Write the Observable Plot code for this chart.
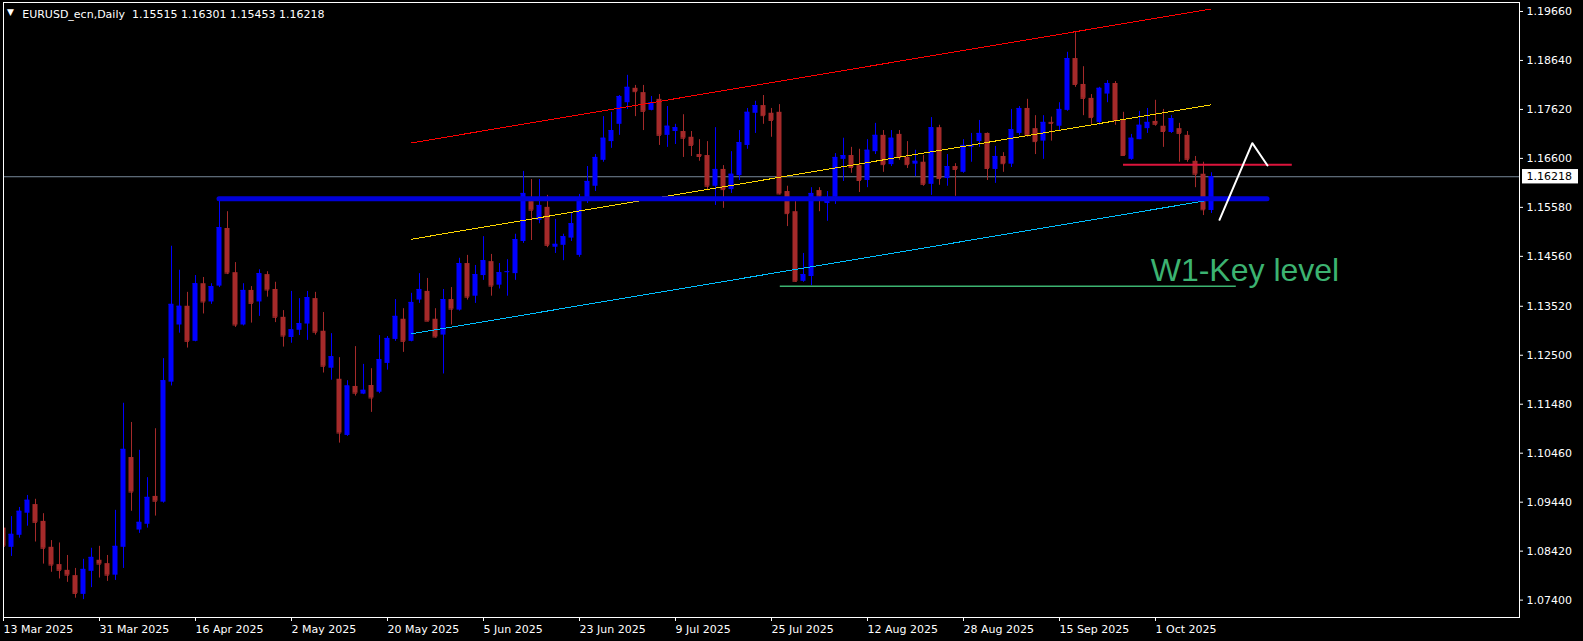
<!DOCTYPE html>
<html>
<head>
<meta charset="utf-8">
<script src="https://cdn.jsdelivr.net/npm/d3@7"></script>
<script src="https://cdn.jsdelivr.net/npm/@observablehq/plot@0.6"></script>
<style>
  html, body { margin: 0; padding: 0; background: #000; }
  #chart svg { display: block; }
</style>
</head>
<body>
<div id="chart"></div>
<script>
// ---- Data (EURUSD_ecn, Daily) : bar index 0 = 13 Mar 2025 ----
const opens = [1.0890,1.0850,1.0875,1.0921,1.0939,1.0904,1.0850,1.0814,1.0802,1.0791,
1.0752,1.0800,1.0823,1.0816,1.0792,1.0850,1.1037,1.0886,1.0898,1.0956,
1.0944,1.1194,1.1313,1.1352,1.1279,1.1399,1.1361,1.1394,1.1514,1.1422,
1.1313,1.1385,1.1361,1.1418,1.1387,1.1329,1.1287,1.1302,1.1315,1.1368,
1.1300,1.1223,1.1200,1.1083,1.1185,1.1169,1.1187,1.1173,1.1233,1.1283,
1.1325,1.1279,1.1365,1.1383,1.1325,1.1292,1.1366,1.1344,1.1441,1.1373,
1.1416,1.1445,1.1396,1.1423,1.1420,1.1487,1.1570,1.1531,1.1558,1.1475,
1.1479,1.1494,1.1458,1.1572,1.1602,1.1656,1.1695,1.1731,1.1776,1.1806,
1.1797,1.1760,1.1783,1.1708,1.1716,1.1716,1.1704,1.1668,1.1666,1.1602,
1.1637,1.1595,1.1624,1.1687,1.1754,1.1770,1.1754,1.1756,1.1591,1.1549,
1.1404,1.1414,1.1593,1.1566,1.1579,1.1658,1.1666,1.1645,1.1614,1.1674,
1.1708,1.1647,1.1710,1.1662,1.1648,1.1652,1.1606,1.1724,1.1618,1.1643,
1.1631,1.1683,1.1695,1.1712,1.1637,1.1664,1.1648,1.1712,1.1764,1.1722,
1.1696,1.1735,1.1727,1.1760,1.1868,1.1814,1.1785,1.1735,1.1794,1.1816,
1.1739,1.1658,1.1699,1.1722,1.1737,1.1727,1.1714,1.1722,1.1708,1.1654,
1.1627,1.15515];
const highs = [1.0900,1.0914,1.0933,1.0958,1.0950,1.0920,1.0864,1.0859,1.0833,1.0806,
1.0825,1.0848,1.0852,1.0833,1.0927,1.1150,1.1110,1.1052,1.0995,1.1097,
1.1243,1.1477,1.1427,1.1381,1.1416,1.1412,1.1399,1.1576,1.1549,1.1443,
1.1399,1.1393,1.1428,1.1424,1.1402,1.1343,1.1383,1.1368,1.1383,1.1381,
1.1339,1.1295,1.1245,1.1197,1.1268,1.1231,1.1222,1.1291,1.1289,1.1366,
1.1347,1.1379,1.1420,1.1410,1.1347,1.1387,1.1391,1.1452,1.1458,1.1437,
1.1497,1.1460,1.1441,1.1449,1.1502,1.1633,1.1616,1.1616,1.1583,1.1533,
1.1502,1.1545,1.1585,1.1643,1.1668,1.1747,1.1756,1.1791,1.1833,1.1812,
1.1812,1.1789,1.1793,1.1768,1.1731,1.1751,1.1716,1.1699,1.1695,1.1724,
1.1645,1.1674,1.1718,1.1764,1.1779,1.1791,1.1764,1.1772,1.1602,1.1570,
1.1462,1.1599,1.1599,1.1591,1.1670,1.1702,1.1683,1.1679,1.1699,1.1733,
1.1718,1.1718,1.1718,1.1695,1.1677,1.1666,1.1745,1.1729,1.1668,1.1649,
1.1699,1.1712,1.1739,1.1713,1.1685,1.1672,1.1762,1.1768,1.1783,1.1749,
1.1749,1.1746,1.1776,1.1881,1.1924,1.1851,1.1793,1.1808,1.1822,1.1820,
1.1756,1.1710,1.1758,1.1764,1.1781,1.1762,1.1749,1.1733,1.1716,1.1664,
1.1652,1.16301];
const lows = [1.0823,1.0831,1.0869,1.0894,1.0861,1.0815,1.0798,1.0784,1.0777,1.0744,
1.0741,1.0766,1.0786,1.0779,1.0781,1.0806,1.0925,1.0879,1.0890,1.0915,
1.0942,1.1186,1.1296,1.1265,1.1278,1.1336,1.1356,1.1391,1.1418,1.1308,
1.1311,1.1317,1.1331,1.1371,1.1318,1.1267,1.1275,1.1291,1.1281,1.1292,
1.1213,1.1198,1.1067,1.1081,1.1165,1.1168,1.1131,1.1170,1.1219,1.1279,
1.1256,1.1278,1.1358,1.1320,1.1286,1.1211,1.1313,1.1342,1.1365,1.1358,
1.1406,1.1373,1.1388,1.1373,1.1406,1.1483,1.1489,1.1524,1.1474,1.1462,
1.1447,1.1487,1.1454,1.1566,1.1591,1.1652,1.1681,1.1708,1.1762,1.1747,
1.1718,1.1759,1.1687,1.1683,1.1689,1.1662,1.1664,1.1654,1.1593,1.1562,
1.1556,1.1587,1.1614,1.1679,1.1712,1.1731,1.1704,1.1584,1.1518,1.1402,
1.1402,1.1395,1.1549,1.1529,1.1564,1.1612,1.1629,1.1589,1.1599,1.1668,
1.1631,1.1643,1.1656,1.1639,1.1622,1.1602,1.1583,1.1604,1.1602,1.1581,
1.1629,1.1652,1.1683,1.1614,1.1608,1.1631,1.1641,1.1708,1.1704,1.1668,
1.1658,1.1696,1.1718,1.1758,1.1808,1.1749,1.1731,1.1729,1.1776,1.1729,
1.1664,1.1656,1.1699,1.1712,1.1727,1.1683,1.1712,1.1652,1.1652,1.1599,
1.1541,1.15453];
const closes = [1.0852,1.0877,1.0925,1.0948,1.0902,1.0848,1.0813,1.0802,1.0792,1.0754,
1.0804,1.0829,1.0815,1.0792,1.0852,1.1054,1.0965,1.0902,1.0954,1.0946,
1.1197,1.1356,1.1352,1.1279,1.1399,1.1361,1.1393,1.1516,1.1421,1.1313,
1.1385,1.1358,1.1420,1.1386,1.1329,1.1290,1.1303,1.1316,1.1370,1.1298,
1.1227,1.1247,1.1088,1.1186,1.1171,1.1177,1.1161,1.1241,1.1285,1.1331,
1.1279,1.1360,1.1387,1.1321,1.1288,1.1366,1.1346,1.1441,1.1371,1.1418,
1.1447,1.1394,1.1422,1.1424,1.1491,1.1587,1.1552,1.1562,1.1479,1.1481,
1.1497,1.1524,1.1578,1.1612,1.1662,1.1702,1.1718,1.1789,1.1808,1.1799,
1.1758,1.1776,1.1708,1.1727,1.1724,1.1702,1.1687,1.1664,1.1602,1.1637,
1.1595,1.1627,1.1693,1.1756,1.1770,1.1749,1.1739,1.1586,1.1545,1.1404,
1.1418,1.1587,1.1581,1.1570,1.1662,1.1666,1.1641,1.1614,1.1677,1.1708,
1.1647,1.1702,1.1662,1.1647,1.1654,1.1606,1.1724,1.1618,1.1643,1.1637,
1.1687,1.1687,1.1712,1.1639,1.1664,1.1649,1.1720,1.1764,1.1708,1.1695,
1.1735,1.1733,1.1762,1.1868,1.1814,1.1785,1.1745,1.1806,1.1816,1.1739,
1.1666,1.1702,1.1729,1.1735,1.1731,1.1716,1.1743,1.1712,1.1658,1.1627,
1.1553,1.16218];

// Axis ticks
const priceTicks = [1.07400,1.08420,1.09440,1.10460,1.11480,1.12500,1.13520,1.14560,1.15580,1.16600,1.17620,1.18640,1.19660];
const dateTickBars = [0,12,24,36,48,60,72,84,96,108,120,132,144];
const dateTickLabels = ["13 Mar 2025","31 Mar 2025","16 Apr 2025","2 May 2025","20 May 2025","5 Jun 2025","23 Jun 2025","9 Jul 2025","25 Jul 2025","12 Aug 2025","28 Aug 2025","15 Sep 2025","1 Oct 2025"];

// Drawn objects (bar index, price)
const channelBars = [51, 150.94];
const redChannel = [1.16923, 1.19712];
const yellowChannel = [1.14917, 1.17717];
const cyanChannel = [1.12947, 1.15736];
const blueLevelBars = [27, 158];
const blueLevel = 1.15759;
const redLevelBars = [140, 161.1];
const redLevel = 1.1647;
const greenLevelBars = [97.1, 154.1];
const greenLevel = 1.13938;
const zigzagBars = [152, 156.1, 158];
const zigzagPrices = [1.15321, 1.16917, 1.16452];
const keyLabel = ["W1-Key level"];
const keyLabelPos = [143.4, 1.1427];
const header = "EURUSD_ecn,Daily\u00a0 1.15515 1.16301 1.15453 1.16218";

// ---- Build ----
const candles = opens.map((o, i) => ({i, o, h: highs[i], l: lows[i], c: closes[i], col: closes[i] >= o ? "#0000ff" : "#a52a2a"}));
const lastClose = closes[closes.length - 1];
const labelMap = new Map(dateTickBars.map((b, k) => [b, dateTickLabels[k]]));
const xDomain = [0, 189.5];
const yDomain = [1.07038, 1.19847];
const seg = (xs, ys) => xs.map((x, k) => ({x, y: ys[k]}));

const chart = Plot.plot({
  width: 1583,
  height: 641,
  marginLeft: 3,
  marginRight: 64,
  marginTop: 2,
  marginBottom: 24,
  style: {background: "#000", color: "#fff", fontFamily: "'DejaVu Sans', sans-serif", fontSize: "11px"},
  x: {domain: xDomain, axis: null},
  y: {domain: yDomain, axis: null},
  color: {type: "identity"},
  marks: [
    // bid line
    Plot.ruleY([lastClose], {stroke: "#778899", strokeWidth: 1}),
    // candles
    Plot.ruleX(candles, {x: "i", y1: "l", y2: "h", stroke: "col", clip: true}),
    Plot.rect(candles, {x1: d => d.i - 0.3125, x2: d => d.i + 0.3125, y1: "o", y2: "c", fill: "col", clip: true}),
    Plot.ruleY(candles, {y: "c", x1: d => d.i - 0.3125, x2: d => d.i + 0.25, stroke: "col", clip: true}),
    // channel
    Plot.line(seg(channelBars, redChannel), {x: "x", y: "y", stroke: "#ff0000", strokeWidth: 1, shapeRendering: "crispEdges"}),
    Plot.line(seg(channelBars, yellowChannel), {x: "x", y: "y", stroke: "#ffd700", strokeWidth: 1, shapeRendering: "crispEdges"}),
    Plot.line(seg(channelBars, cyanChannel), {x: "x", y: "y", stroke: "#00bfff", strokeWidth: 1, shapeRendering: "crispEdges"}),
    // levels
    Plot.ruleY([greenLevel], {x1: greenLevelBars[0], x2: greenLevelBars[1], stroke: "#3cb371", strokeWidth: 1.5}),
    Plot.ruleY([redLevel], {x1: redLevelBars[0], x2: redLevelBars[1], stroke: "#dc143c", strokeWidth: 2}),
    Plot.ruleY([blueLevel], {x1: blueLevelBars[0], x2: blueLevelBars[1], stroke: "#0000d8", strokeWidth: 5, strokeLinecap: "round"}),
    Plot.line(seg(zigzagBars, zigzagPrices), {x: "x", y: "y", stroke: "#ffffff", strokeWidth: 2}),
    Plot.text(keyLabel, {x: () => keyLabelPos[0], y: () => keyLabelPos[1], text: d => d, fill: "#3cb371", fontSize: 32, fontFamily: "'Liberation Sans', Arial, sans-serif", textAnchor: "start", lineAnchor: "middle"}),
    // frame and axes
    Plot.frame({stroke: "#fff"}),
    Plot.axisY(priceTicks, {anchor: "right", tickSize: 3, tickPadding: 4, tickFormat: d => d.toFixed(5), fontSize: 11}),
    Plot.axisX(dateTickBars, {anchor: "bottom", tickSize: 4, tickPadding: 4, tickFormat: d => labelMap.get(d), textAnchor: "start", fontSize: 11}),
    // current price label
    Plot.rect([lastClose], {x1: () => xDomain[1] + 0.375, x2: () => xDomain[1] + 7.375, y1: d => d - 0.0015, y2: d => d + 0.0015, fill: "#fff", clip: false}),
    Plot.text([lastClose], {x: () => xDomain[1], y: d => d, dx: 7, text: d => d.toFixed(5), fill: "#000", textAnchor: "start", fontSize: 11}),
    // header
    Plot.text(["\u25BC"], {frameAnchor: "top-left", dx: 7, dy: 6.5, text: d => d, fill: "#fff", fontSize: 9, textAnchor: "middle", lineAnchor: "top"}),
    Plot.text([header], {frameAnchor: "top-left", dx: 18.7, dy: 7.5, text: d => d, fill: "#fff", fontSize: 11, textAnchor: "start", lineAnchor: "top"})
  ]
});
document.getElementById("chart").appendChild(chart);
</script>
</body>
</html>
